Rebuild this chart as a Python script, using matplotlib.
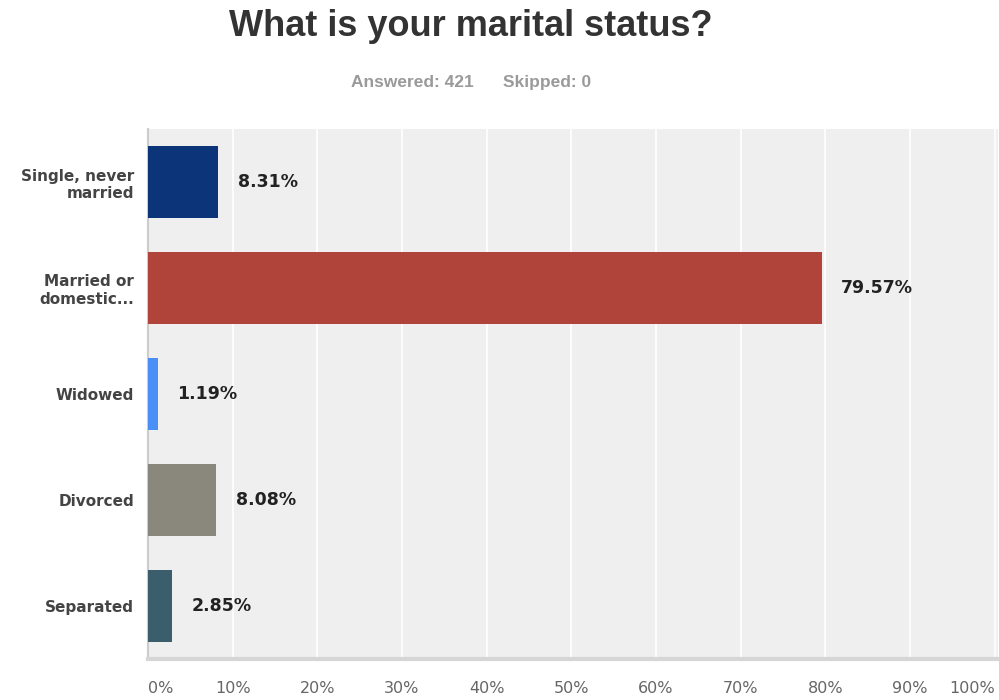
import matplotlib.pyplot as plt
from matplotlib.ticker import FixedLocator

# ---------------------------------------------------------
# Data
# ---------------------------------------------------------
categories = ['Single, never\nmarried', 'Married or\ndomestic...', 'Widowed',
              'Divorced', 'Separated']
percentages = [8.31, 79.57, 1.19, 8.08, 2.85]
bar_colors = ['#0b3479', '#b1443a', '#4a8ff5', '#8a887c', '#3b5e6c']
x_ticks = [0, 10, 20, 30, 40, 50, 60, 70, 80, 90, 100]
x_tick_labels = ['0%', '10%', '20%', '30%', '40%', '50%', '60%', '70%', '80%', '90%', '100%']

plt.rcParams['font.family'] = ['Liberation Sans', 'DejaVu Sans']

# ---------------------------------------------------------
# Figure
# ---------------------------------------------------------
fig = plt.figure(figsize=(9.99, 7.0), dpi=100)
ax = fig.add_axes([148 / 999, 1 - 659 / 700, 850 / 999, 530 / 700])
ax.set_facecolor('#efefef')

y_pos = list(range(len(categories)))
ax.barh(y_pos, percentages, height=0.67, color=bar_colors, zorder=3)

for y, v in zip(y_pos, percentages):
    ax.annotate(f'{v:.2f}%', xy=(v, y), xytext=(14, 0), textcoords='offset points',
                ha='left', va='center', fontsize=12.5, fontweight='bold',
                family='DejaVu Sans', color='#222222', zorder=4)

ax.set_xlim(0, 100.4)
ax.set_ylim(len(categories) - 0.5, -0.5)
ax.set_yticks(y_pos)
ax.set_yticklabels(categories, fontsize=11, fontweight='bold', color='#444444',
                   family='DejaVu Sans', linespacing=1.25)
ax.xaxis.set_major_locator(FixedLocator(x_ticks))
ax.set_xticklabels(x_tick_labels, fontsize=11.5, color='#666666', family='DejaVu Sans')
ax.tick_params(axis='both', length=0)
ax.tick_params(axis='y', pad=10)
ax.tick_params(axis='x', pad=16)

# shift edge labels inward so they stay on the canvas
xlabels = ax.get_xticklabels()
xlabels[0].set_horizontalalignment('left')
xlabels[-1].set_horizontalalignment('right')
xlabels[-1].set_x(99.2)

ax.grid(axis='x', color='white', linewidth=1.2, zorder=1)
for side in ['top', 'right']:
    ax.spines[side].set_visible(False)
ax.spines['left'].set_color('#cccccc')
ax.spines['left'].set_linewidth(1.5)
ax.spines['bottom'].set_color('#d6d6d6')
ax.spines['bottom'].set_linewidth(3)

fig.text(471 / 999, 1 - 27 / 700, 'What is your marital status?', ha='center', va='center',
         fontsize=26, fontweight='bold', color='#333333')
fig.text(471 / 999, 1 - 82 / 700, 'Answered: 421      Skipped: 0', ha='center', va='center',
         fontsize=12.5, fontweight='bold', color='#9a9a9a')

fig.savefig('out.png', dpi=100)
